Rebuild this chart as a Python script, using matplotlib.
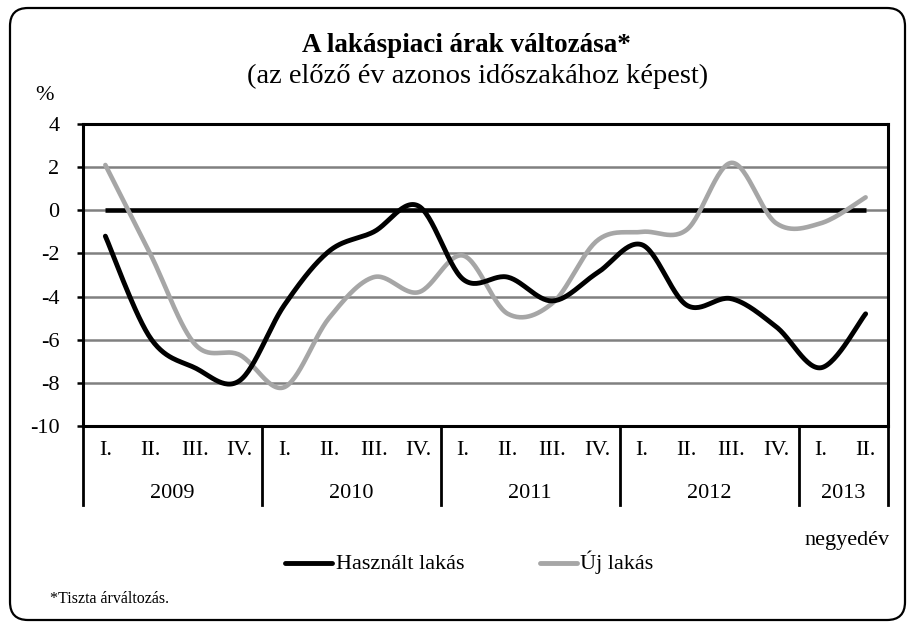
import numpy as np
import matplotlib
matplotlib.use("Agg")
import matplotlib.pyplot as plt
from matplotlib.patches import FancyBboxPatch
from matplotlib.lines import Line2D
from matplotlib.transforms import IdentityTransform, blended_transform_factory

plt.rcParams['font.family'] = ['Liberation Serif', 'DejaVu Serif']

# ---- data ----
quarters = ["I.", "II.", "III.", "IV.", "I.", "II.", "III.", "IV.", "I.", "II.", "III.", "IV.",
            "I.", "II.", "III.", "IV.", "I.", "II."]
years = ["2009", "2010", "2011", "2012", "2013"]
year_quarter_counts = [4, 4, 4, 4, 2]
hasznalt = [-1.2, -5.9, -7.3, -7.9, -4.4, -1.9, -1.0, 0.2, -3.2, -3.1, -4.2, -2.9,
            -1.6, -4.4, -4.1, -5.4, -7.3, -4.8]
uj = [2.1, -2.0, -6.2, -6.7, -8.2, -5.0, -3.1, -3.8, -2.1, -4.8, -4.3, -1.4,
      -1.0, -0.9, 2.2, -0.6, -0.6, 0.6]
yticks = [4, 2, 0, -2, -4, -6, -8, -10]
series_names = ["Használt lakás", "Új lakás"]


def smooth(xs, ys, n=30):
    """Catmull-Rom rendering of a line (like a spreadsheet 'smoothed line')."""
    xs = np.asarray(xs, float)
    ys = np.asarray(ys, float)
    px = np.concatenate([[xs[0]], xs, [xs[-1]]])
    py = np.concatenate([[ys[0]], ys, [ys[-1]]])
    ox, oy = [], []
    t = np.linspace(0, 1, n, endpoint=False)
    for i in range(1, len(px) - 2):
        for arr_p, out in ((px, ox), (py, oy)):
            p0, p1, p2, p3 = arr_p[i - 1], arr_p[i], arr_p[i + 1], arr_p[i + 2]
            m1 = (p2 - p0) / 2
            m2 = (p3 - p1) / 2
            h00 = 2 * t**3 - 3 * t**2 + 1
            h10 = t**3 - 2 * t**2 + t
            h01 = -2 * t**3 + 3 * t**2
            h11 = t**3 - t**2
            out.extend(h00 * p1 + h10 * m1 + h01 * p2 + h11 * m2)
    ox.append(xs[-1])
    oy.append(ys[-1])
    return np.array(ox), np.array(oy)


W, H = 909, 625
fig = plt.figure(figsize=(W / 100, H / 100), dpi=100)

# rounded outer frame
frame = FancyBboxPatch((10, 5), 895, 612, boxstyle="round,pad=0,rounding_size=18",
                       transform=IdentityTransform(), fill=False, ec='black', lw=1.6)
fig.patches.append(frame)

L, R, T, B = 83, 888, 124, 426
ax = fig.add_axes([L / W, (H - B) / H, (R - L) / W, (B - T) / H])

FS = 16
n = len(quarters)
x = np.arange(n) + 0.5
ax.set_xlim(0, n)
ax.set_ylim(-10, 4)
ax.set_yticks(yticks)
ax.set_yticklabels([str(v) for v in yticks], fontsize=FS)
ax.set_xticks([])
ax.tick_params(axis='y', direction='out', length=4, width=1.8, pad=13)
for v in yticks[1:-1]:
    ax.axhline(v, color='#808080', lw=1.8, zorder=1)
for s in ax.spines.values():
    s.set_linewidth(2.2)

ax.hlines(0, x[0], x[-1], color='black', lw=3.3, zorder=2)
sx, sy = smooth(x, uj)
ax.plot(sx, sy, color='#A6A6A6', lw=3.3, solid_capstyle='round', zorder=3)
sx, sy = smooth(x, hasznalt)
ax.plot(sx, sy, color='black', lw=3.5, solid_capstyle='round', zorder=4)

# two-level category axis
trans = blended_transform_factory(ax.transData, ax.transAxes)
for xi, q in zip(x, quarters):
    ax.text(xi, -0.082, q, transform=trans, ha='center', va='center', fontsize=FS)
edges = np.concatenate([[0], np.cumsum(year_quarter_counts)])
for e in edges:
    ax.plot([e, e], [0, -0.262], transform=trans, color='black', lw=2, clip_on=False)
for i, yname in enumerate(years):
    ax.text((edges[i] + edges[i + 1]) / 2, -0.225, yname, transform=trans,
            ha='center', va='center', fontsize=FS)

# titles and labels (pixel positions converted to figure fractions)
def fx(px):
    return px / W

def fy(py):
    return 1 - py / H

fig.text(fx(466), fy(46), "A lakáspiaci árak változása*", ha='center', va='center',
         fontsize=19.5, fontweight='bold')
fig.text(fx(478), fy(76), "(az előző év azonos időszakához képest)", ha='center',
         va='center', fontsize=20.5)
fig.text(fx(45), fy(96), "%", ha='center', va='center', fontsize=FS)
fig.text(fx(890), fy(541), "negyedév", ha='right', va='center', fontsize=FS)
fig.text(fx(50), fy(599), "*Tiszta árváltozás.", ha='left', va='center', fontsize=11.5)

# legend
fig.add_artist(Line2D([fx(285), fx(332)], [fy(563), fy(563)], color='black', lw=3.5,
                      solid_capstyle='round', transform=fig.transFigure))
fig.text(fx(336), fy(569), series_names[0], ha='left', va='baseline', fontsize=FS)
fig.add_artist(Line2D([fx(540), fx(577)], [fy(563), fy(563)], color='#A6A6A6', lw=3.5,
                      solid_capstyle='round', transform=fig.transFigure))
fig.text(fx(580), fy(569), series_names[1], ha='left', va='baseline', fontsize=FS)

fig.savefig("out.png", dpi=100)
